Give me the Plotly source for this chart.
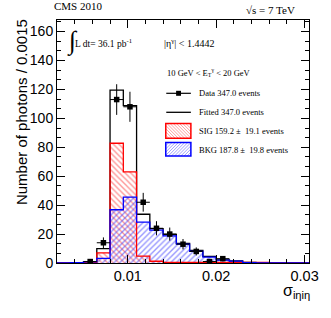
import plotly.graph_objects as go

# ---------------- data ----------------
bin_edges = [0.002, 0.0035, 0.005, 0.0065, 0.008, 0.0095, 0.011, 0.0125, 0.014, 0.0155,
             0.017, 0.0185, 0.020, 0.0215, 0.023, 0.0245, 0.026, 0.0275, 0.029, 0.0305]
bin_width = 0.0015
fitted_counts = [0, 0.2, 1.0, 10.0, 119.5, 108.8, 33.7, 23.7, 19.7, 13.5,
                 8.7, 4.6, 2.2, 1.4, 0.4, 0.2, 0.1, 0, 0]
sig_counts = [0, 0, 0.2, 7.0, 82.8, 63.0, 4.8, 1.2, 0.5, 0.4,
              0.4, 0.4, 0.4, 0.4, 0.4, 0.4, 0, 0, 0]
bkg_counts = [0, 0.2, 0.8, 3.2, 36.8, 45.5, 28.2, 22.7, 18.8, 13.0,
              8.0, 4.0, 2.0, 1.3, 0.3, 0.1, 0, 0, 0]
data_x = [0.00575, 0.00725, 0.00875, 0.01025, 0.01175, 0.01325, 0.01475, 0.01625,
          0.01775, 0.01925, 0.02075]
data_y = [1, 14, 113, 108, 42, 24, 20, 13, 8, 1, 3]
data_err = [1.0, 3.7, 10.6, 10.4, 6.5, 4.9, 4.5, 3.6, 2.8, 1.0, 1.7]
x_ticks = [0.01, 0.02, 0.03]
x_tick_labels = ["0.01", "0.02", "0.03"]

centers = [(a + b) / 2 for a, b in zip(bin_edges[:-1], bin_edges[1:])]

# ---------------- layout geometry (pixels) ----------------
W, H = 331, 318
L, R, T, B = 57, 18, 20, 55
PW, PH = W - L - R, H - T - B


def px(xp, yp):
    return (xp - L) / PW, (H - B - yp) / PH


SERIF = "Liberation Serif"
SANS = "Liberation Sans"

fig = go.Figure()

# fitted total outline
fig.add_trace(go.Scatter(x=bin_edges, y=fitted_counts + [fitted_counts[-1]],
                         mode="lines", line=dict(color="black", width=1.3, shape="hv"),
                         showlegend=False, hoverinfo="skip"))

# signal hatched
fig.add_trace(go.Bar(x=centers, y=sig_counts, width=bin_width,
                     marker=dict(color="rgba(0,0,0,0)", line=dict(width=0),
                                 pattern=dict(shape="\\", fgcolor="#ff3030", bgcolor="rgba(0,0,0,0)",
                                              size=4, solidity=0.35, fillmode="overlay")),
                     showlegend=False, hoverinfo="skip"))
fig.add_trace(go.Scatter(x=bin_edges, y=sig_counts + [sig_counts[-1]],
                         mode="lines", line=dict(color="red", width=1.3, shape="hv"),
                         showlegend=False, hoverinfo="skip"))

# background hatched
fig.add_trace(go.Bar(x=centers, y=bkg_counts, width=bin_width,
                     marker=dict(color="rgba(0,0,0,0)", line=dict(width=0),
                                 pattern=dict(shape="/", fgcolor="#3030ff", bgcolor="rgba(0,0,0,0)",
                                              size=4, solidity=0.35, fillmode="overlay")),
                     showlegend=False, hoverinfo="skip"))
fig.add_trace(go.Scatter(x=bin_edges, y=bkg_counts + [bkg_counts[-1]],
                         mode="lines", line=dict(color="blue", width=1.3, shape="hv"),
                         showlegend=False, hoverinfo="skip"))

# data
fig.add_trace(go.Scatter(x=data_x, y=data_y, mode="markers",
                         marker=dict(symbol="square", size=5.5, color="black"),
                         error_y=dict(type="data", array=data_err, color="black", thickness=1, width=0),
                         error_x=dict(type="constant", value=bin_width / 2, color="black", thickness=1, width=0),
                         showlegend=False, hoverinfo="skip"))

shapes = []
annotations = []


def text(s, xp, yp, size, xanchor="left", font=SERIF, **kw):
    xx, yy = px(xp, yp)
    annotations.append(dict(text=s, x=xx, y=yy, xref="paper", yref="paper",
                            xanchor=xanchor, yanchor="middle", showarrow=False,
                            font=dict(family=font, size=size, color="black"), **kw))


def line(x0, y0, x1, y1, color, width=1.3):
    a, b = px(x0, y0)
    c, d = px(x1, y1)
    shapes.append(dict(type="line", xref="paper", yref="paper", x0=a, y0=b, x1=c, y1=d,
                       line=dict(color=color, width=width)))


def hatch_box(x0, y0, x1, y1, color, hcolor, direction):
    path = []
    step = 3.2
    if direction == "back":  # x - y = c
        c = x0 - y1
        while c < x1 - y0:
            ya, yb = max(y0, x0 - c), min(y1, x1 - c)
            if yb > ya:
                path.append((ya + c, ya, yb + c, yb))
            c += step
    else:  # x + y = c
        c = x0 + y0
        while c < x1 + y1:
            ya, yb = max(y0, c - x1), min(y1, c - x0)
            if yb > ya:
                path.append((c - ya, ya, c - yb, yb))
            c += step
    for (a, b, cc, d) in path:
        line(a, b, cc, d, hcolor, 0.8)
    p0 = px(x0, y0)
    p1 = px(x1, y1)
    shapes.append(dict(type="rect", xref="paper", yref="paper", x0=p0[0], y0=p0[1], x1=p1[0], y1=p1[1],
                       line=dict(color=color, width=1.5), fillcolor="rgba(0,0,0,0)"))


# legend
line(168, 93.3, 193, 93.3, "black", 1.2)
x0, y0 = px(178, 90.8)
x1, y1 = px(183, 95.8)
shapes.append(dict(type="rect", xref="paper", yref="paper", x0=x0, y0=y0, x1=x1, y1=y1,
                   line=dict(width=0), fillcolor="black"))
line(168, 112.3, 193, 112.3, "black", 1.3)
hatch_box(167.5, 123.5, 193, 138.3, "red", "rgba(255,60,60,0.6)", "back")
hatch_box(167.5, 142.5, 193, 156, "blue", "rgba(60,60,255,0.6)", "fwd")

text("Data 347.0 events", 199, 93.3, 8.5)
text("Fitted 347.0 events", 199, 112.3, 8.5)
text("SIG 159.2 ±  19.1 events", 199, 131, 8.5)
text("BKG 187.8 ±  19.8 events", 199, 150, 8.5)
text("10 GeV < E<sub>T</sub><sup>γ</sup> < 20 GeV", 167, 72, 8.5)

text("CMS 2010", 52, 6, 11)
text("√s = 7 TeV", 301, 10, 11, xanchor="right")
text("∫", 65, 41, 26)
text("L dt= 36.1 pb<sup>-1</sup>", 73, 43, 9.5)
text("|η<sup>γ</sup>| < 1.4442", 164, 43, 10)

text("Number of photons / 0.0015", 20.5, 112, 15, xanchor="center", font=SANS, textangle=-90)
text("σ<sub>iηiη</sub>", 316, 291, 16, xanchor="right", font=SANS)

fig.update_layout(
    width=W, height=H, margin=dict(l=L, r=R, t=T, b=B),
    paper_bgcolor="white", plot_bgcolor="white", barmode="overlay", bargap=0,
    shapes=shapes, annotations=annotations, showlegend=False,
    xaxis=dict(range=[bin_edges[0], bin_edges[-1]], tickvals=x_ticks, ticktext=x_tick_labels,
               ticks="inside", ticklen=8, tickcolor="black", showline=True, linecolor="black",
               linewidth=1, mirror="allticks", showgrid=False, zeroline=False,
               tickfont=dict(family=SANS, size=14.5, color="black"),
               minor=dict(ticks="inside", ticklen=4, dtick=0.002, tick0=0, tickcolor="black", showgrid=False)),
    yaxis=dict(range=[0, 168], dtick=20, tick0=0,
               ticks="inside", ticklen=8, tickcolor="black", showline=True, linecolor="black",
               linewidth=1, mirror="allticks", showgrid=False, zeroline=False,
               tickfont=dict(family=SANS, size=14, color="black"),
               minor=dict(ticks="inside", ticklen=4, dtick=20 / 3, tick0=0, tickcolor="black", showgrid=False)),
)

fig.write_html("out.html", config={"displayModeBar": False},
               post_script="document.body.style.margin='0';document.body.style.padding='0';")
